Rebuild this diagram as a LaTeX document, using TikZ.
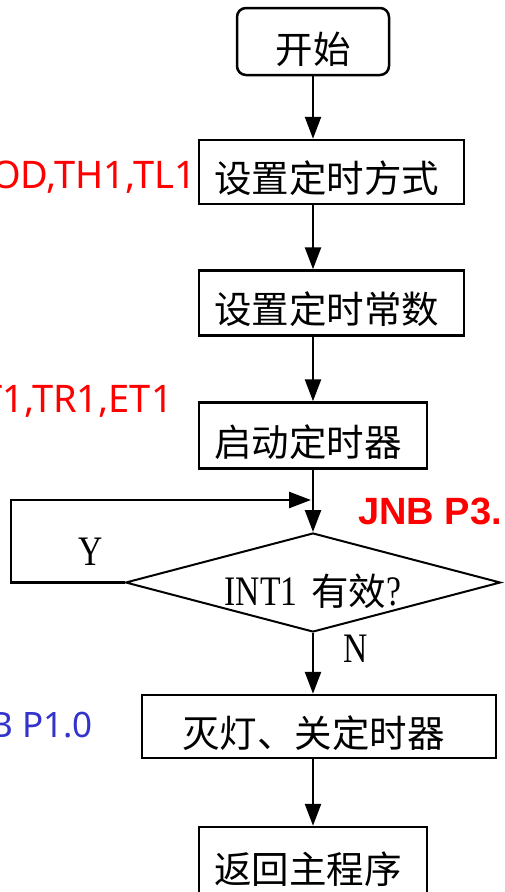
\documentclass[tikz,border=0pt]{standalone}
\usepackage{fontspec}
\usetikzlibrary{arrows.meta,shapes.geometric}
\newfontfamily\cjk{Noto Sans CJK SC}
\newfontfamily\notes{Noto Sans}
\newfontfamily\notesb{Liberation Sans}
\newfontfamily\serifn[FakeStretch=0.8]{Liberation Serif}
\definecolor{noteblue}{RGB}{51,51,204}
\begin{document}
\begin{tikzpicture}[x=1pt,y=-1pt,
  cjkfont/.style={font=\cjk\fontsize{37.5pt}{40pt}\selectfont},
  stepbox/.style={draw, line width=2.5pt, inner ysep=0pt, text height=41.5pt, text depth=0pt, align=left, cjkfont},
  startbox/.style={draw, line width=2.5pt, rounded corners=9pt, inner sep=0pt, minimum width=152pt, minimum height=67pt, text height=44.5pt, text depth=0pt, cjkfont},
  decision/.style={draw, diamond, aspect=3.8, line width=2pt, inner sep=0pt, minimum width=375pt, minimum height=99pt, text height=45pt, text depth=0pt},
  conn/.style={line width=2.5pt, -{Triangle[length=22pt,width=16pt]}},
  rednote/.style={inner sep=0pt, text=red, font=\notes\fontsize{38pt}{40pt}\selectfont},
  bluenote/.style={inner sep=0pt, text=noteblue, font=\notes\fontsize{35pt}{40pt}\selectfont},
  boldnote/.style={inner sep=0pt, text=red, font=\notesb\bfseries\fontsize{38pt}{40pt}\selectfont},
  yn/.style={inner sep=0pt, font=\serifn\fontsize{42pt}{44pt}\selectfont}
]
\useasboundingbox (0,0) rectangle (504,892);
\clip (0,0) rectangle (504,892);

\node[startbox] (s) at (313,41.5) {开始};
\node[stepbox, inner xsep=15pt, text width=235pt, minimum height=64pt] (b1) at (331.5,172) {设置定时方式};
\node[stepbox, inner xsep=15pt, text width=235pt, minimum height=65pt] (b2) at (331.5,303) {设置定时常数};
\node[stepbox, inner xsep=15pt, text width=198pt, minimum height=66pt] (b3) at (313,435.5) {启动定时器};
\node[decision] (d) at (313,582.5) {{\serifn\fontsize{42pt}{44pt}\selectfont INT1}\hspace{14pt}{\cjk\fontsize{37.5pt}{40pt}\selectfont 有效}{\serifn\fontsize{42pt}{44pt}\selectfont ?}};
\node[stepbox, inner xsep=40pt, text width=274pt, minimum height=63pt] (b4) at (319,726.5) {灭灯、关定时器};
\node[stepbox, inner xsep=15pt, text width=198pt, minimum height=72pt] (b5) at (313,863) {返回主程序};

\node[rednote, anchor=base east] (n1) at (196,188) {OD,TH1,TL1};
\node[rednote, anchor=base east] (n2) at (173,412) {T1,TR1,ET1};
\node[boldnote, anchor=base west] (n3) at (358,524) {JNB P3.};
\node[bluenote, anchor=base east] (n4) at (93,737) {B P1.0};
\node[yn, anchor=base west] (ly) at (78,565) {Y};
\node[yn, anchor=base west] (ln) at (343,662) {N};

\coordinate (lc) at (11,500);
\coordinate (join) at (311,500);

\draw[conn] (s.south) -- (b1.north -| s.south);
\draw[conn] (b1.south -| s.south) -- (b2.north -| s.south);
\draw[conn] (b2.south -| s.south) -- (b3.north);
\draw[conn] (b3.south) -- (d.north);
\draw[conn] (d.west) -| (lc) -- (join);
\draw[conn] (d.south) -- (b4.north -| d.south);
\draw[conn] (b4.south -| d.south) -- (b5.north);
\end{tikzpicture}
\end{document}
